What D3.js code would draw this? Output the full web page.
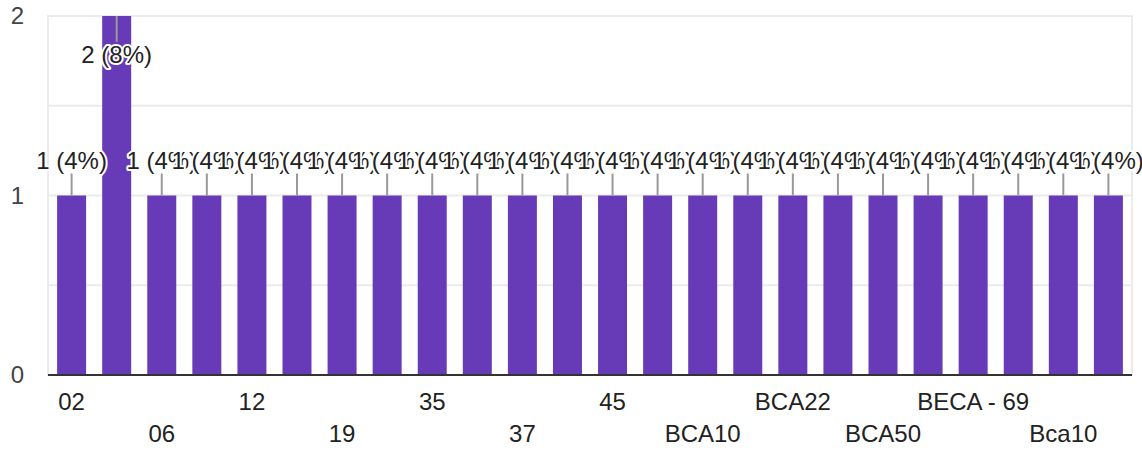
<!DOCTYPE html>
<html lang="en"><head>
<meta charset="utf-8">
<title>Responses</title>
<script src="https://cdnjs.cloudflare.com/ajax/libs/d3/7.8.5/d3.min.js"></script>
<style>
  body { margin: 0; background: #fff; }
  .chart text { font-family: Arial, "Liberation Sans", sans-serif; font-size: 24px; }
  .ann { fill: #222; stroke: #fff; stroke-width: 4px; paint-order: stroke; stroke-linejoin: round; }
</style>
</head>
<body>
<svg class="chart" width="1142" height="450"></svg>
<script>
// answers (alphabetical, as the form sorts them); hidden labels are guesses
var categories = ["02", "03", "06", "10", "12", "15", "19", "33", "35", "36", "37", "40",
                  "45", "BCA01", "BCA10", "BCA15", "BCA22", "BCA45", "BCA50", "BCA61",
                  "BECA - 69", "BECA-70", "Bca10", "bca20"];
var counts = [1, 2, 1, 1, 1, 1, 1, 1, 1, 1, 1, 1, 1, 1, 1, 1, 1, 1, 1, 1, 1, 1, 1, 1];
var yTicks = [0, 1, 2];
var yGrid = [0.5, 1, 1.5, 2];

var total = d3.sum(counts);
var data = categories.map(function(c, i) { return { cat: c, n: counts[i], i: i } });

var svg = d3.select('.chart')
var plotL = 48, plotR = 1132, plotT = 16, plotB = 375

var x = d3.scaleBand()
  .domain(categories)
  .range([49, 1131])
  .paddingInner(0.357)
  .paddingOuter(0.18)

var y = d3.scaleLinear()
  .domain([0, 2])
  .range([plotB, plotT])

// frame + gridlines
svg.append("rect")
  .attr("x", plotL)
  .attr("y", plotT)
  .attr("width", plotR - plotL)
  .attr("height", plotB - plotT)
  .attr("fill", "none")
  .attr("stroke", "#ebebeb")
  .attr("stroke-width", 2)

svg.selectAll(".grid").data(yGrid).enter().append("line")
  .attr("class", "grid")
  .attr("x1", plotL).attr("x2", plotR)
  .attr("y1", function(d) { return y(d) })
  .attr("y2", function(d) { return y(d) })
  .attr("stroke", "#ebebeb")
  .attr("stroke-width", 2)

// y labels
svg.selectAll(".ylab").data(yTicks).enter().append("text")
  .attr("class", "ylab")
  .attr("x", 24)
  .attr("y", function(d) { return y(d) + 8 })
  .attr("text-anchor", "end")
  .attr("fill", "#444")
  .text(function(d) { return d })

// bars
svg.selectAll(".bar").data(data).enter().append("rect")
  .attr("class", "bar")
  .attr("x", function(d) { return x(d.cat) })
  .attr("width", x.bandwidth())
  .attr("y", function(d) { return y(d.n) })
  .attr("height", function(d) { return y(0) - y(d.n) })
  .attr("fill", "#673ab7")

// baseline
svg.append("line")
  .attr("x1", plotL).attr("x2", plotR)
  .attr("y1", y(0)).attr("y2", y(0))
  .attr("stroke", "#333")
  .attr("stroke-width", 2)

// annotations: stem + "n (p%)"
var ann = svg.selectAll(".annot").data(data).enter().append("g")
  .attr("class", "annot")
  .attr("transform", function(d) { return "translate(" + (x(d.cat) + x.bandwidth() / 2) + ",0)" })

ann.append("line")
  .attr("x1", 0).attr("x2", 0)
  .attr("y1", function(d) { return y(d.n) })
  .attr("y2", function(d) { return d.n == 2 ? y(d.n) + 26 : y(d.n) - 22 })
  .attr("stroke", "#999")
  .attr("stroke-width", 2)

ann.append("text")
  .attr("class", "ann")
  .attr("text-anchor", "middle")
  .attr("y", function(d) { return d.n == 2 ? y(d.n) + 47 : y(d.n) - 27 })
  .text(function(d) { return d.n + " (" + Math.round(d.n / total * 100) + "%)" })

// x labels, every other one, staggered on two rows
svg.selectAll(".xlab").data(data.filter(function(d) { return d.i % 2 == 0 })).enter().append("text")
  .attr("class", "xlab")
  .attr("x", function(d) { return x(d.cat) + x.bandwidth() / 2 })
  .attr("y", function(d) { return (d.i / 2) % 2 == 0 ? 410 : 442 })
  .attr("text-anchor", "middle")
  .attr("fill", "#222")
  .text(function(d) { return d.cat })
</script>
</body></html>
